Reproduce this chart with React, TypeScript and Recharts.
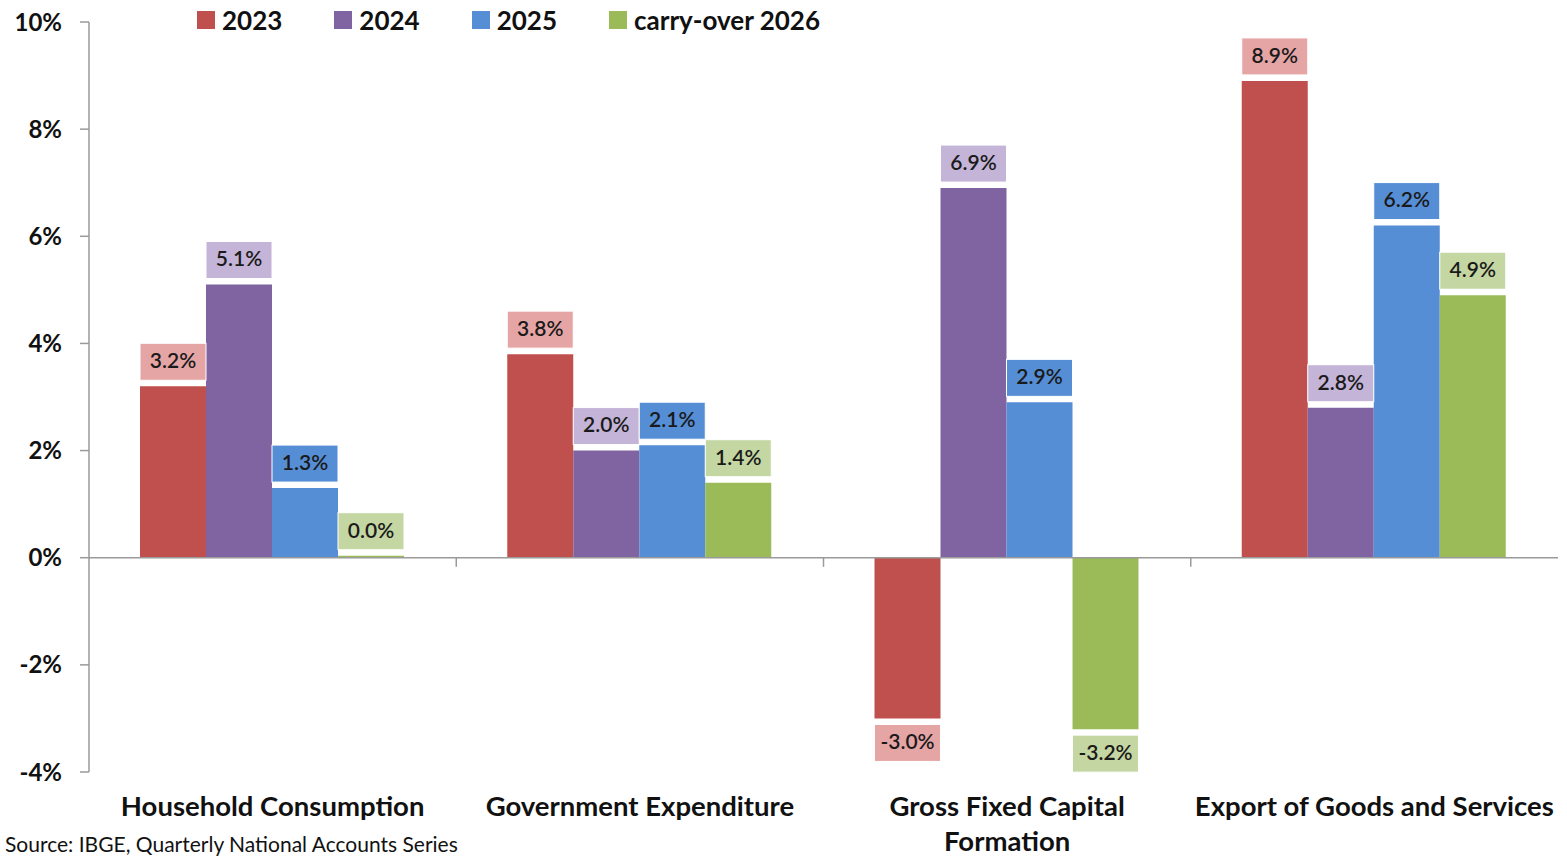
import { BarChart, Bar, XAxis, YAxis, ReferenceLine, LabelList } from "recharts";

const categories = [
  "Household Consumption",
  "Government Expenditure",
  "Gross Fixed Capital Formation",
  "Export of Goods and Services",
];

// how the category names break over lines on the axis
const categoryLines: Record<string, string[]> = {
  "Household Consumption": ["Household Consumption"],
  "Government Expenditure": ["Government Expenditure"],
  "Gross Fixed Capital Formation": ["Gross Fixed Capital", "Formation"],
  "Export of Goods and Services": ["Export of Goods and Services"],
};

const values2023 = [3.2, 3.8, -3.0, 8.9];
const values2024 = [5.1, 2.0, 6.9, 2.8];
const values2025 = [1.3, 2.1, 2.9, 6.2];
const valuesCarry = [0.0, 1.4, -3.2, 4.9];

const yTicks = [-4, -2, 0, 2, 4, 6, 8, 10];

const series = [
  { key: "y2023", name: "2023", color: "#C0504D", boxColor: "#E6A5A5" },
  { key: "y2024", name: "2024", color: "#8064A2", boxColor: "#C4B4D7" },
  { key: "y2025", name: "2025", color: "#558ED5", boxColor: "#558ED5" },
  { key: "carry", name: "carry-over 2026", color: "#9BBB59", boxColor: "#C4D6A1" },
];

const data = categories.map((name, i) => ({
  name,
  y2023: values2023[i],
  y2024: values2024[i],
  y2025: values2025[i],
  carry: valuesCarry[i],
}));

const FONT = "Lato, 'Open Sans', sans-serif";

function makeLabel(boxColor: string) {
  return (props: any) => {
    const { x, y, width, height, value } = props;
    const top = Math.min(y, y + height);
    const bottom = Math.max(y, y + height);
    const boxH = 37;
    const gap = 6;
    const boxY = value < 0 ? bottom + gap : top - gap - boxH;
    return (
      <g>
        <rect x={x} y={boxY} width={width} height={boxH} fill={boxColor} stroke="#fff" strokeWidth={1} />
        <text
          x={x + width / 2}
          y={boxY + boxH / 2 + 1}
          textAnchor="middle"
          dominantBaseline="middle"
          fontSize={21}
          fontFamily={FONT}
          fontWeight={600}
          fill="#1a1a1a"
        >
          {Number(value).toFixed(1)}%
        </text>
      </g>
    );
  };
}

function CategoryTick(props: any) {
  const { x, y, payload } = props;
  const lines = categoryLines[payload.value] || [payload.value];
  return (
    <g>
      {lines.map((line, i) => (
        <text
          key={i}
          x={x}
          y={y + 29 + i * 35}
          textAnchor="middle"
          dominantBaseline="middle"
          fontSize={27.5}
          fontWeight={700}
          fontFamily={FONT}
          fill="#111"
        >
          {line}
        </text>
      ))}
    </g>
  );
}

export default function App() {
  return (
    <div style={{ position: "absolute", left: 0, top: 0, width: 1567, height: 858, background: "#fff", overflow: "hidden" }}>
      <BarChart
        width={1567}
        height={858}
        data={data}
        margin={{ top: 22, right: 9, left: 0, bottom: 0 }}
        barCategoryGap={51}
        barGap={0}
      >
        <XAxis
          dataKey="name"
          axisLine={false}
          tickLine={false}
          tick={<CategoryTick />}
          interval={0}
          height={86}
        />
        <YAxis
          domain={[-4, 10]}
          ticks={yTicks}
          width={89}
          tickFormatter={(v: number) => `${v}%`}
          axisLine={{ stroke: "#9a9a9a", strokeWidth: 1.5 }}
          tickLine={{ stroke: "#9a9a9a", strokeWidth: 1.5 }}
          tickSize={9}
          tickMargin={18}
          tick={{ fontSize: 24, fontWeight: 700, fontFamily: FONT, fill: "#111" }}
        />
        <ReferenceLine y={0} stroke="#9a9a9a" strokeWidth={1.5} />
        {categories.slice(1).map((c) => (
          <ReferenceLine
            key={c}
            segment={[
              { x: c, y: 0 },
              { x: c, y: -0.17 },
            ]}
            position="start"
            stroke="#9a9a9a"
            strokeWidth={1.5}
          />
        ))}
        {series.map((s) => (
          <Bar key={s.key} dataKey={s.key} name={s.name} fill={s.color} minPointSize={2} isAnimationActive={false}>
            <LabelList dataKey={s.key} content={makeLabel(s.boxColor)} />
          </Bar>
        ))}
      </BarChart>
      <div
        style={{
          position: "absolute",
          left: 197,
          top: 4,
          display: "flex",
          fontFamily: FONT,
          fontWeight: 700,
          fontSize: 26,
          color: "#111",
        }}
      >
        {series.map((s) => (
          <div key={s.key} style={{ display: "flex", alignItems: "center", marginRight: 52 }}>
            <span style={{ width: 18, height: 18, background: s.color, display: "inline-block", marginRight: 7 }} />
            <span>{s.name}</span>
          </div>
        ))}
      </div>
      <div
        style={{
          position: "absolute",
          left: 5,
          top: 832,
          fontFamily: FONT,
          fontSize: 21,
          lineHeight: "24px",
          color: "#111",
          whiteSpace: "nowrap",
        }}
      >
        Source: IBGE, Quarterly National Accounts Series
      </div>
    </div>
  );
}
